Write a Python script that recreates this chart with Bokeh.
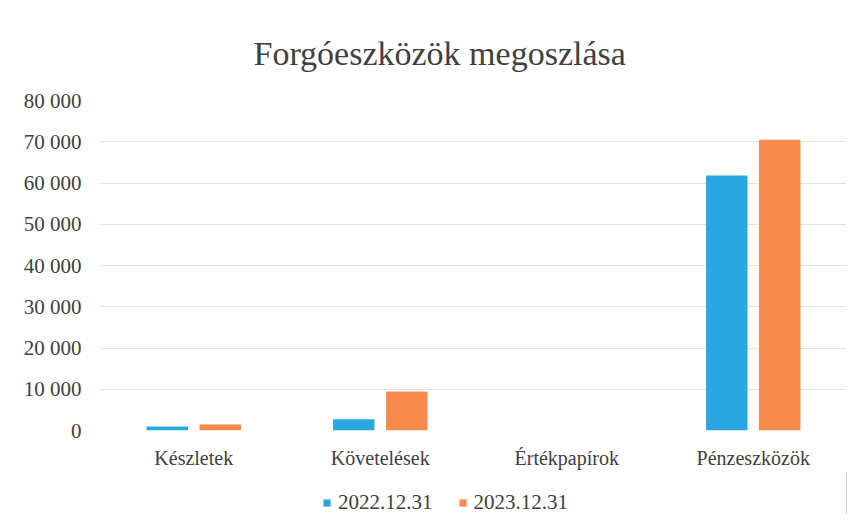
from bokeh.plotting import figure
from bokeh.layouts import column
from bokeh.models import FactorRange, Legend, LegendItem, FixedTicker, CustomJSTickFormatter, ColumnDataSource
from bokeh.transform import dodge
from bokeh.embed import file_html
from bokeh.resources import INLINE

categories = ["Készletek", "Követelések", "Értékpapírok", "Pénzeszközök"]
series_names = ["2022.12.31", "2023.12.31"]
values_2022 = [1000, 2750, 0, 61800]
values_2023 = [1450, 9450, 0, 70500]
y_ticks = [0, 10000, 20000, 30000, 40000, 50000, 60000, 70000, 80000]
title_text = "Forgóeszközök megoszlása"

colors = ["#2AA7E1", "#F7894B"]
font = "Liberation Serif"
text_color = "#404040"

source = ColumnDataSource(dict(cat=categories, v2022=values_2022, v2023=values_2023))

p = figure(x_range=FactorRange(factors=categories, range_padding=0, factor_padding=0),
           y_range=(0, 80000), frame_width=746, frame_height=330,
           output_backend="svg", toolbar_location=None,
           min_border_left=100, min_border_right=12, min_border_top=100, min_border_bottom=40)

p.title.text = title_text
p.title.align = "left"
p.title.offset = 153
p.title.text_font = font
p.title.text_font_size = "34px"
p.title.text_font_style = "normal"
p.title.text_color = text_color
p.title.standoff = 58

r1 = p.vbar(x=dodge("cat", -0.142, range=p.x_range), top="v2022", width=0.222,
            source=source, fill_color=colors[0], line_color=None)
r2 = p.vbar(x=dodge("cat", 0.142, range=p.x_range), top="v2023", width=0.222,
            source=source, fill_color=colors[1], line_color=None)

p.yaxis.ticker = FixedTicker(ticks=y_ticks)
p.yaxis.formatter = CustomJSTickFormatter(code='return tick.toFixed(0).replace(/\\B(?=(\\d{3})+(?!\\d))/g, " ");')
for ax in (p.xaxis, p.yaxis):
    ax.axis_line_color = None
    ax.major_tick_line_color = None
    ax.minor_tick_line_color = None
    ax.major_label_text_font = font
    ax.major_label_text_color = text_color
p.yaxis.major_label_text_font_size = "21px"
p.xaxis.major_label_text_font_size = "20px"
p.yaxis.major_label_standoff = 13
p.xaxis.major_label_standoff = 10

p.xgrid.grid_line_color = None
p.ygrid.grid_line_color = "#E3E3E3"
p.ygrid.grid_line_width = 1
p.outline_line_color = None
p.background_fill_color = "white"
p.border_fill_color = "white"

# Legend lives in a small strip figure below the chart (its own bars sit outside its visible range)
lp = figure(width=858, height=43, output_backend="svg", toolbar_location=None,
            x_axis_location=None, y_axis_location=None,
            min_border_left=0, min_border_right=0, min_border_top=0, min_border_bottom=0,
            x_range=(0, 1), y_range=(0, 1))
lp.outline_line_color = None
lp.grid.grid_line_color = None
lp.background_fill_color = "white"
lp.border_fill_color = "white"
l1 = lp.vbar(x=[5], top=[5], width=0.1, fill_color=colors[0], line_color=None)
l2 = lp.vbar(x=[5], top=[5], width=0.1, fill_color=colors[1], line_color=None)

legend = Legend(items=[LegendItem(label=series_names[0], renderers=[l1]),
                       LegendItem(label=series_names[1], renderers=[l2])],
                orientation="horizontal", location=(222, -1),
                label_text_font=font, label_text_font_size="21px", label_text_color=text_color,
                glyph_width=9, glyph_height=9, spacing=25, label_standoff=7,
                border_line_color=None, background_fill_alpha=0, margin=0, padding=4)
lp.add_layout(legend, "center")

open("out.html", "w").write(file_html(column(p, lp, spacing=0), INLINE))
